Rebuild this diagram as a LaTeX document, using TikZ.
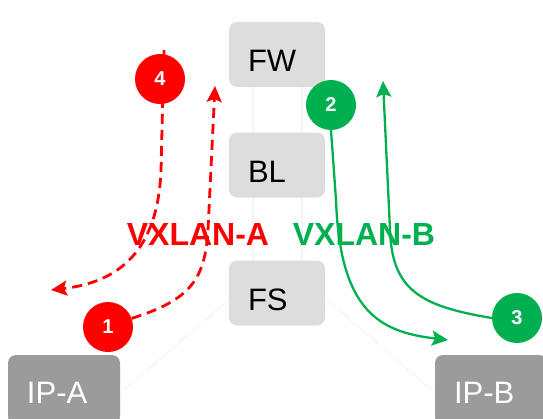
\documentclass[tikz,border=0pt]{standalone}
\usepackage{fontspec}
\setmainfont{Liberation Sans}
\usetikzlibrary{arrows.meta}
\usepackage{xcolor}
\definecolor{vxred}{HTML}{FF0000}
\definecolor{vxgreen}{HTML}{00B050}
\definecolor{boxlight}{HTML}{DDDDDD}
\definecolor{boxdark}{HTML}{9B9B9B}
\definecolor{wire}{HTML}{F4F4F4}
\pgfdeclarelayer{back}
\pgfdeclarelayer{paths}
\pgfdeclarelayer{front}
\pgfsetlayers{back,main,paths,front}

\begin{document}
\begin{tikzpicture}[x=1pt,y=-1pt,
  dev/.style={fill=boxlight,rounded corners=8pt,minimum width=96pt,minimum height=65pt,
    inner xsep=19pt,inner ysep=0pt,text width=58pt,align=left,text height=34pt,text depth=0pt,
    font=\fontsize{31}{31}\selectfont},
  host/.style={dev,fill=boxdark,text=white,minimum width=112pt,minimum height=70pt,
    text width=74pt,text height=26pt},
  badge/.style={circle,fill=#1,minimum size=50pt,inner sep=0pt,text=white,
    font=\bfseries\fontsize{20}{20}\selectfont},
  vni/.style={anchor=base,text=#1,font=\bfseries\fontsize{32}{32}\selectfont},
  tunA/.style={vxred,line width=2.8pt,dash pattern=on 10pt off 6pt,
    -{Stealth[length=16pt,width=15pt,inset=3pt]}},
  tunB/.style={vxgreen,line width=2.3pt,line cap=round,
    -{Stealth[length=16pt,width=15pt,inset=3pt]}}]
\useasboundingbox (0,0) rectangle (543,418);
\clip (0,0) rectangle (543,418);

\node[dev] (fw) at (277,54.5) {FW};
\node[dev] (bl) at (277,165) {BL};
\node[dev] (fs) at (277,293) {FS};
\node[host] (ipa) at (64,390) {IP-A};
\node[host,inner xsep=17pt] (ipb) at (491,390) {IP-B};

\begin{pgfonlayer}{back}
\draw[wire,line width=1.2pt] ([xshift=-24pt]fw.south) -- ([xshift=-24pt]fs.north);
\draw[wire,line width=1.2pt] ([xshift=25pt]fw.south) -- ([xshift=25pt]fs.north);
\draw[wire,line width=1pt] ([yshift=-7pt]fs.west) -- ([yshift=-3pt]ipa.east);
\draw[wire,line width=1pt] ([yshift=-5pt]fs.east) -- ([yshift=-3pt]ipb.west);
\end{pgfonlayer}

\node[vni=vxred] (vxa) at (198,245) {VXLAN-A};
\node[vni=vxgreen] (vxb) at (364,245) {VXLAN-B};

\begin{pgfonlayer}{front}
\node[badge=vxred] (s1) at (108,327) {1};
\node[badge=vxgreen] (s2) at (331,105) {2};
\node[badge=vxgreen] (s3) at (517,318) {3};
\node[badge=vxred] (s4) at (160,79) {4};
\end{pgfonlayer}

\coordinate (up1) at (215,86);
\coordinate (out4) at (51,290);
\coordinate (in4) at (164,50);
\coordinate (dn2) at (448,340);
\coordinate (up3) at (383,81);

\begin{pgfonlayer}{paths}
\draw[tunA] (s1.20) .. controls (190,300) and (205,280) .. (208,230) -- (up1);
\draw[tunA] (in4) -- (161,170) .. controls (158,250) and (120,282) .. (out4);
\draw[tunB] (s2.south) -- (336,200) .. controls (340,312) and (380,332) .. (dn2);
\draw[tunB] (s3.west) .. controls (420,306) and (392,290) .. (390,230) -- (up3);
\end{pgfonlayer}
\end{tikzpicture}
\end{document}
